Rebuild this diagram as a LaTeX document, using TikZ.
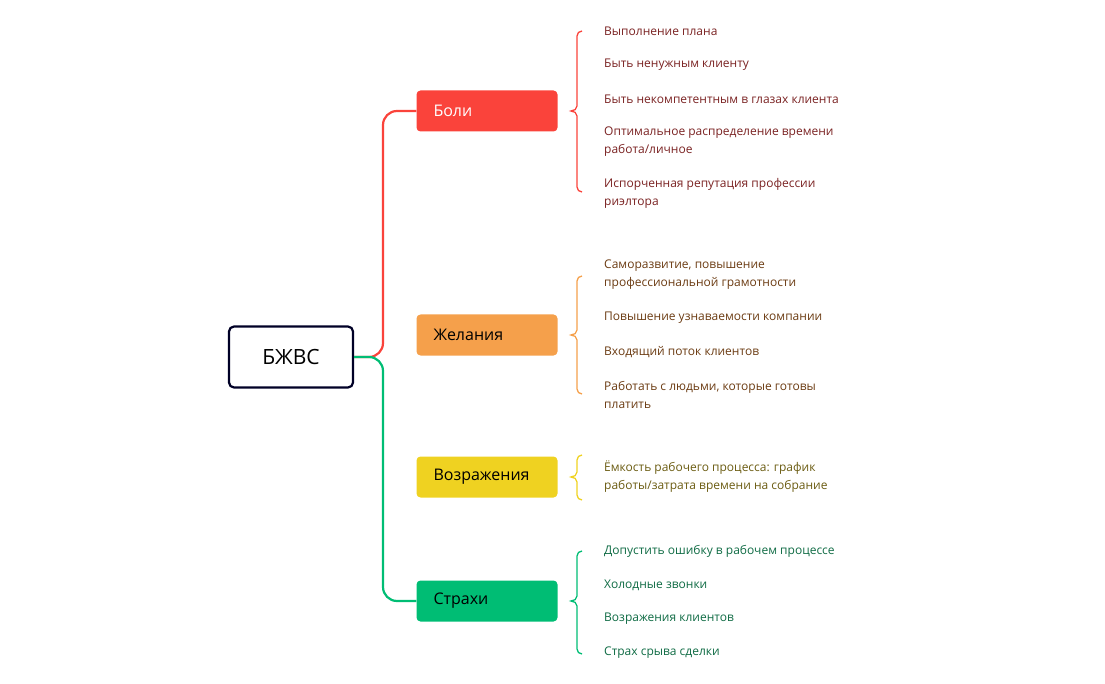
\documentclass[tikz,border=0pt]{standalone}
\usepackage{fontspec}
\setmainfont{Open Sans}
\begin{document}
\begin{tikzpicture}[x=1pt,y=-1pt,
  cat/.style={rounded corners=4pt,minimum width=141pt,minimum height=41pt,inner xsep=17pt,text width=107pt,align=left,font=\fontsize{16}{18}\selectfont},
  leaf/.style={anchor=west,align=left,inner sep=0pt,font=\fontsize{12}{18}\selectfont},
  brc/.style={line width=1.3pt},
  conn/.style={line width=2.2pt,rounded corners=14pt}]
\useasboundingbox (0,0) rectangle (1105,684);
\definecolor{cR}{HTML}{FA433B}\definecolor{cO}{HTML}{F5A04B}
\definecolor{cY}{HTML}{EFD221}\definecolor{cG}{HTML}{00BD74}
\definecolor{tR}{HTML}{7A2222}\definecolor{tO}{HTML}{6B3B12}
\definecolor{tY}{HTML}{6B5C12}\definecolor{tG}{HTML}{0F6B44}
\node[draw=black!85!blue,line width=2.2pt,rounded corners=5pt,minimum width=124pt,minimum height=61pt,font=\fontsize{21}{24}\selectfont] (root) at (291,357) {БЖВС};
\node[cat,fill=cR,text=white] (boli) at (487,111) {Боли};
\node[cat,fill=cO] (zhel) at (487,335) {Желания};
\node[cat,fill=cY] (vozr) at (487,477) {Возражения};
\node[cat,fill=cG] (strah) at (487,601) {Страхи};
\draw[conn,cR] (root.east) -- (383,357) -- (383,111) -- (boli.west);
\draw[conn,cG] (root.east) -- (383,357) -- (383,601) -- (strah.west);
% braces
\newcommand{\mybrace}[4]{\draw[brc,#4] (582,#1) to[out=180,in=90] (577,#1+5) -- (577,#3-5) to[out=-90,in=0] (571,#3) to[out=0,in=90] (577,#3+5) -- (577,#2-5) to[out=-90,in=180] (582,#2);}
\mybrace{31}{192}{111}{cR}
\mybrace{276}{394}{335}{cO}
\mybrace{455}{500}{477}{cY}
\mybrace{551}{654}{601}{cG}
\begin{scope}[every node/.style={leaf}]
\node[text=tR] (b1) at (604,31) {Выполнение плана};
\node[text=tR] (b2) at (604,65) {Быть ненужным клиенту};
\node[text=tR] (b3) at (604,99) {Быть некомпетентным в глазах клиента};
\node[text=tR] (b4) at (604,142) {Оптимальное распределение времени\\работа/личное};
\node[text=tR] (b5) at (604,193) {Испорченная репутация профессии\\риэлтора};
\node[text=tO] (z1) at (604,275) {Саморазвитие, повышение\\профессиональной грамотности};
\node[text=tO] (z2) at (604,318) {Повышение узнаваемости компании};
\node[text=tO] (z3) at (604,352) {Входящий поток клиентов};
\node[text=tO] (z4) at (604,395) {Работать с людьми, которые готовы\\платить};
\node[text=tY] (v1) at (604,477) {Ёмкость рабочего процесса: график\\работы/затрата времени на собрание};
\node[text=tG] (s1) at (604,551) {Допустить ошибку в рабочем процессе};
\node[text=tG] (s2) at (604,585) {Холодные звонки};
\node[text=tG] (s3) at (604,619) {Возражения клиентов};
\node[text=tG] (s4) at (604,653) {Страх срыва сделки};
\end{scope}
\end{tikzpicture}
\end{document}
